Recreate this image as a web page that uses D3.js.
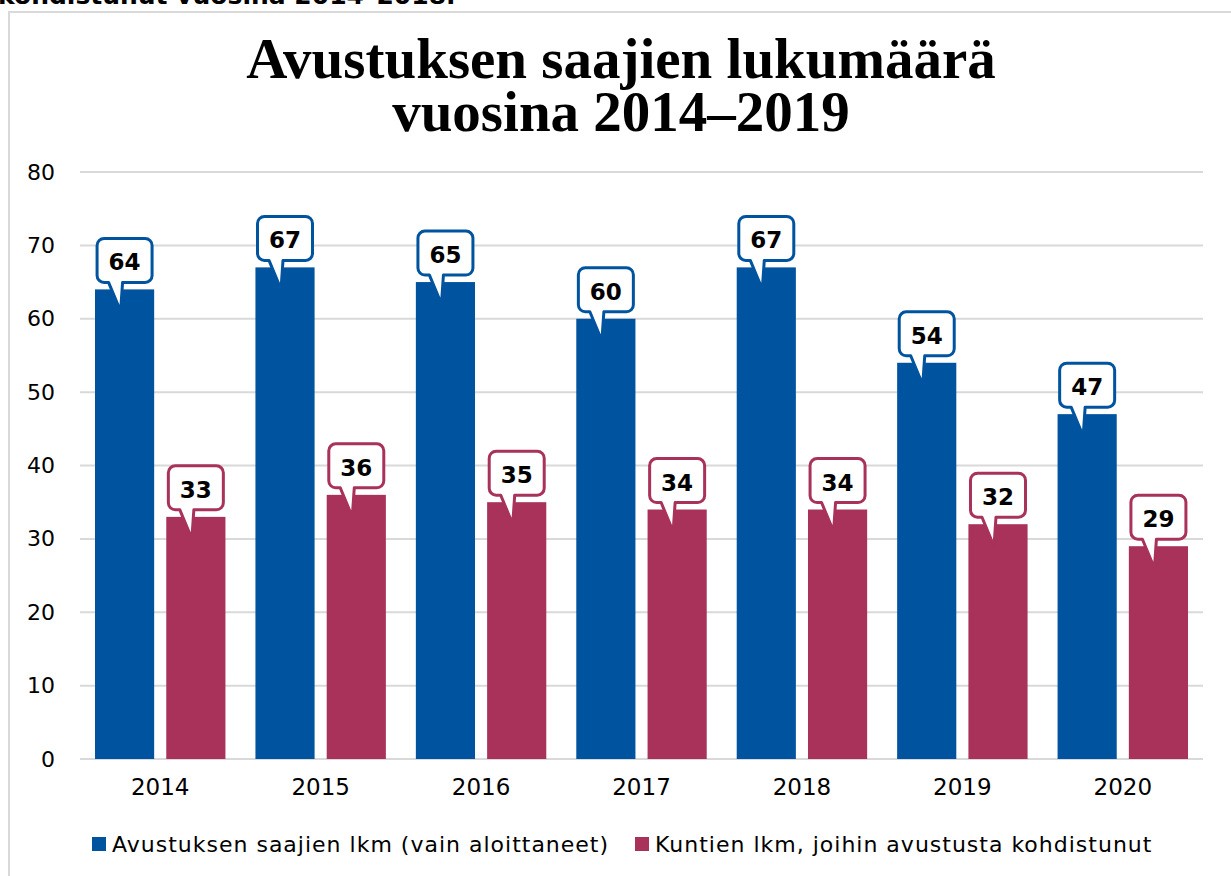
<!DOCTYPE html>
<html>
<head>
<meta charset="utf-8">
<script src="https://cdn.jsdelivr.net/npm/d3@7"></script>
<style>
  body { margin: 0; background: #fff; }
  text { font-family: "DejaVu Sans", Verdana, sans-serif; }
</style>
</head>
<body>
<script>
const width = 1231;
const height = 876;

const years = ["2014", "2015", "2016", "2017", "2018", "2019", "2020"];
const seriesNames = ["Avustuksen saajien lkm (vain aloittaneet)", "Kuntien lkm, joihin avustusta kohdistunut"];
const recipients = [64, 67, 65, 60, 67, 54, 47];
const municipalities = [33, 36, 35, 34, 34, 32, 29];
const yTicks = [0, 10, 20, 30, 40, 50, 60, 70, 80];
const colors = ["#00549f", "#a8325a"];

const data = years.map(function(y, i) {
    return { year: y, values: [recipients[i], municipalities[i]] };
});

let svg = d3.select("body")
    .append("svg")
    .attr("width", width)
    .attr("height", height);

// cut-off caption from the page above the chart
svg.append("text")
    .attr("x", -2)
    .attr("y", 4)
    .attr("font-size", 25)
    .attr("font-weight", "bold")
    .text("kohdistunut vuosina 2014–2018.");

// chart frame, runs past the right and bottom edges
svg.append("rect")
    .attr("x", 9)
    .attr("y", 12)
    .attr("width", 1260)
    .attr("height", 900)
    .attr("fill", "none")
    .attr("stroke", "#d9d9d9")
    .attr("stroke-width", 2);

// title, two lines
const titleLines = ["Avustuksen saajien lukumäärä", "vuosina 2014–2019"];
svg.selectAll(".title")
    .data(titleLines)
    .enter()
    .append("text")
    .attr("class", "title")
    .attr("x", 621)
    .attr("y", function(d, i) { return 78 + i * 53; })
    .attr("text-anchor", "middle")
    .attr("font-size", 57)
    .attr("font-weight", "bold")
    .style("font-family", "'Liberation Serif', 'Times New Roman', serif")
    .text(function(d) { return d; });

var x0 = d3.scaleBand()
    .domain(years)
    .range([80, 1203])
    .paddingInner(0.187)
    .paddingOuter(0.0935);

var x1 = d3.scaleBand()
    .domain([0, 1])
    .range([0, x0.bandwidth()])
    .paddingInner(0.17);

var yScale = d3.scaleLinear()
    .domain([0, 80])
    .range([759, 172]);

// gridlines
svg.append("g")
    .selectAll("line")
    .data(yTicks)
    .enter()
    .append("line")
    .attr("x1", 80)
    .attr("x2", 1203)
    .attr("y1", function(d) { return yScale(d); })
    .attr("y2", function(d) { return yScale(d); })
    .attr("stroke", "#d9d9d9")
    .attr("stroke-width", 2);

var yAxis = d3.axisLeft(yScale).tickValues(yTicks).tickSize(0).tickPadding(0);
let yg = svg.append("g")
    .attr("transform", "translate(55,0)")
    .call(yAxis);
yg.select(".domain").remove();
yg.selectAll("text")
    .attr("font-size", 22)
    .attr("fill", "#000")
    .style("font-family", "'DejaVu Sans', Verdana, sans-serif");

var xAxis = d3.axisBottom(x0).tickSize(0).tickPadding(0);
let xg = svg.append("g")
    .attr("transform", "translate(0,779)")
    .call(xAxis);
xg.select(".domain").remove();
xg.selectAll("text")
    .attr("font-size", 23)
    .attr("fill", "#000")
    .style("font-family", "'DejaVu Sans', Verdana, sans-serif");

let groups = svg.selectAll(".grp")
    .data(data)
    .enter()
    .append("g")
    .attr("class", "grp")
    .attr("transform", function(d) { return "translate(" + x0(d.year) + ",0)"; });

groups.selectAll("rect")
    .data(function(d) { return d.values; })
    .enter()
    .append("rect")
    .attr("x", function(d, i) { return x1(i); })
    .attr("y", function(d) { return yScale(d); })
    .attr("width", x1.bandwidth())
    .attr("height", function(d) { return yScale(0) - yScale(d); })
    .attr("fill", function(d, i) { return colors[i]; });

// callout labels
const boxW = 55, boxH = 44, r = 7;
function calloutPath(cx, barTop) {
    var bottom = barTop - 7;
    var top = bottom - boxH;
    var left = cx - boxW / 2, right = cx + boxW / 2;
    var p = d3.path();
    p.moveTo(left + r, top);
    p.lineTo(right - r, top);
    p.arcTo(right, top, right, top + r, r);
    p.lineTo(right, bottom - r);
    p.arcTo(right, bottom, right - r, bottom, r);
    p.lineTo(cx - 2, bottom);
    p.lineTo(cx - 4, barTop + 22);
    p.lineTo(cx - 16, bottom);
    p.lineTo(left + r, bottom);
    p.arcTo(left, bottom, left, bottom - r, r);
    p.lineTo(left, top + r);
    p.arcTo(left, top, left + r, top, r);
    p.closePath();
    return p.toString();
}

let labels = groups.selectAll(".lbl")
    .data(function(d) { return d.values; })
    .enter()
    .append("g")
    .attr("class", "lbl");

labels.append("path")
    .attr("d", function(d, i) {
        return calloutPath(x1(i) + x1.bandwidth() / 2, yScale(d));
    })
    .attr("fill", "#fff")
    .attr("stroke", function(d, i) { return colors[i]; })
    .attr("stroke-width", 3)
    .attr("stroke-linejoin", "round");

labels.append("text")
    .attr("x", function(d, i) { return x1(i) + x1.bandwidth() / 2; })
    .attr("y", function(d) { return yScale(d) - 7 - 12; })
    .attr("text-anchor", "middle")
    .attr("font-size", 23)
    .attr("font-weight", "bold")
    .text(function(d) { return d; });

// legend
let legend = svg.append("g").attr("transform", "translate(0,844)");
const legendX = [92, 635];
seriesNames.forEach(function(name, i) {
    legend.append("rect")
        .attr("x", legendX[i])
        .attr("y", -7)
        .attr("width", 14)
        .attr("height", 14)
        .attr("fill", colors[i]);
    legend.append("text")
        .attr("x", legendX[i] + 20)
        .attr("y", 8)
        .attr("font-size", 22)
        .attr("letter-spacing", 1)
        .text(name);
});
</script>
</body>
</html>
